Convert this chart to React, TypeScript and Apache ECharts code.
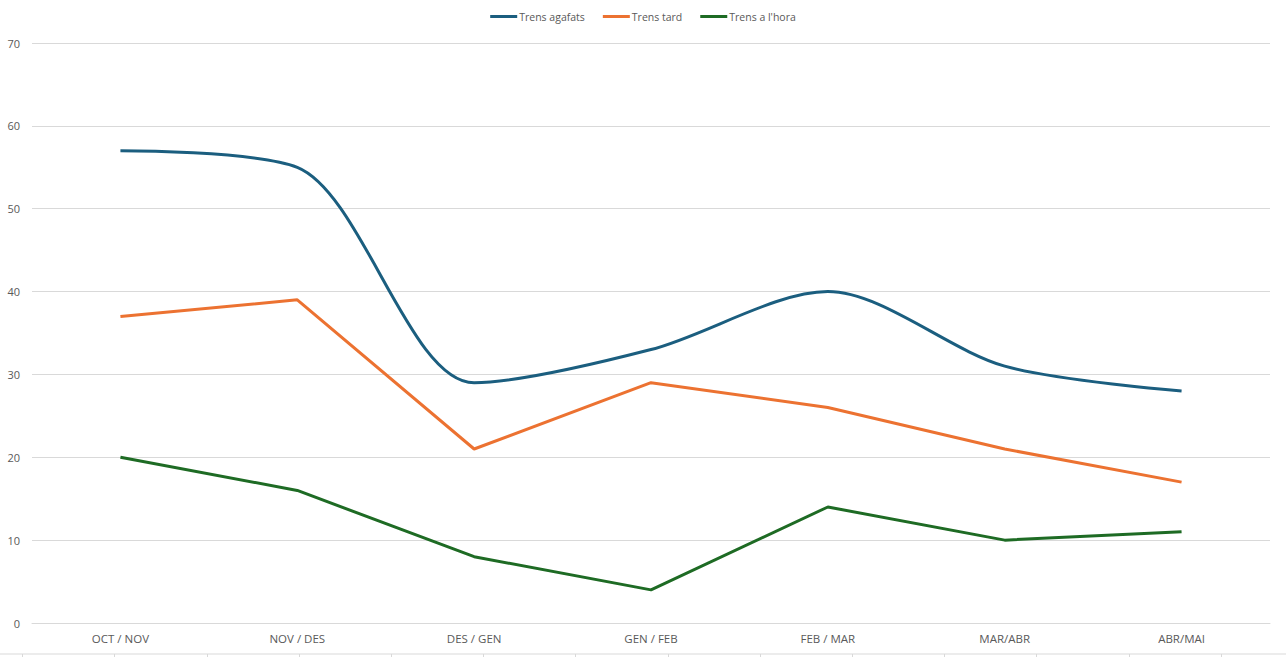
import React, { useEffect, useRef } from "react";
import * as echarts from "echarts";

const categories = ["OCT / NOV", "NOV / DES", "DES / GEN", "GEN / FEB", "FEB / MAR", "MAR/ABR", "ABR/MAI"];
const trensAgafats = [57, 55, 29, 33, 40, 31, 28];
const trensTard = [37, 39, 21, 29, 26, 21, 17];
const trensHora = [20, 16, 8, 4, 14, 10, 11];
const seriesNames = ["Trens agafats", "Trens tard", "Trens a l'hora"];
const colors = ["#1b5e7f", "#ec7231", "#1e6b24"];

export default function App() {
  const ref = useRef<HTMLDivElement>(null);
  useEffect(() => {
    document.body.style.margin = "0";
    const chart = echarts.init(ref.current!, null, { renderer: "svg" });
    const font = "'Open Sans', 'Noto Sans', sans-serif";
    chart.setOption({
      animation: false,
      textStyle: { fontFamily: font },
      legend: {
        top: 6,
        left: "center",
        icon: "rect",
        itemWidth: 27,
        itemHeight: 3,
        itemGap: 18,
        textStyle: { fontSize: 10.5, color: "#595959", fontFamily: font, padding: [0, 0, 0, -3] },
        data: seriesNames,
      },
      grid: [
        { left: 32, right: 16, top: 43, bottom: 34, containLabel: false },
        { left: 22.5, width: 1198.5, top: 654, height: 0 },
      ],
      xAxis: [
        {
          type: "category",
          data: categories,
          gridIndex: 0,
          boundaryGap: true,
          axisLine: { lineStyle: { color: "#d9d9d9" } },
          axisTick: { show: false },
          axisLabel: { color: "#595959", fontSize: 11.5, margin: 9, fontFamily: font },
        },
        {
          type: "value",
          gridIndex: 1,
          min: 0,
          max: 13,
          interval: 1,
          axisLine: { show: false },
          axisTick: { show: true, length: 4, lineStyle: { color: "#d9d9d9" } },
          axisLabel: { show: false },
          splitLine: { show: false },
        },
      ],
      yAxis: [
        {
          type: "value",
          gridIndex: 0,
          min: 0,
          max: 70,
          interval: 10,
          axisLine: { show: false },
          axisTick: { show: false },
          axisLabel: { color: "#595959", fontSize: 11, margin: 12, fontFamily: font },
          splitLine: { lineStyle: { color: "#d9d9d9" } },
        },
        {
          type: "value",
          gridIndex: 1,
          show: false,
        },
      ],
      graphic: [
        {
          type: "line",
          shape: { x1: 0, y1: 654, x2: 1286, y2: 654 },
          style: { stroke: "#d9d9d9", lineWidth: 1 },
          silent: true,
        },
      ],
      series: [
        {
          name: seriesNames[0],
          type: "line",
          data: trensAgafats,
          smooth: 0.3,
          symbol: "none",
          color: colors[0],
          lineStyle: { width: 3, color: colors[0] },
        },
        {
          name: seriesNames[1],
          type: "line",
          data: trensTard,
          symbol: "none",
          color: colors[1],
          lineStyle: { width: 3, color: colors[1] },
        },
        {
          name: seriesNames[2],
          type: "line",
          data: trensHora,
          symbol: "none",
          color: colors[2],
          lineStyle: { width: 3, color: colors[2] },
        },
      ],
    });
    return () => chart.dispose();
  }, []);
  return <div ref={ref} style={{ width: 1286, height: 657 }} />;
}
